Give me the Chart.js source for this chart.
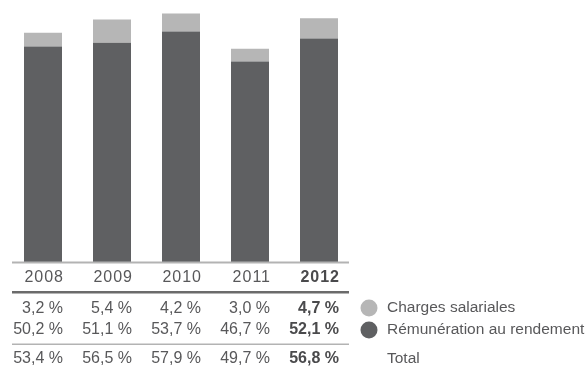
<!DOCTYPE html>
<html lang="fr">
<head>
<meta charset="UTF-8" />
<title>Rémunération au rendement</title>
<style>
  * {margin:0; padding:0; box-sizing:border-box;}
  body {background:#fff; width:587px; height:367px; overflow:hidden;}
  #chart {display:block;}
</style>
</head>
<body>
<canvas id="chart" width="587" height="367"></canvas>

<script src="https://cdn.jsdelivr.net/npm/chart.js"></script>
<script>
  // data
  const years = ['2008', '2009', '2010', '2011', '2012'];
  const charges = [3.2, 5.4, 4.2, 3.0, 4.7];
  const remuneration = [50.2, 51.1, 53.7, 46.7, 52.1];
  const totals = [53.4, 56.5, 57.9, 49.7, 56.8];

  const DARK = '#5f6062';
  const LIGHT = '#b6b6b6';
  const TEXT = '#58585a';
  const FONT = '"Liberation Sans", Arial, sans-serif';

  const pct = v => v.toFixed(1).replace('.', ',') + ' %';

  // table under the bars + legend at the right
  const tablePlugin = {
    id: 'tablePlugin',
    afterDraw(chart) {
      const ctx = chart.ctx;
      const meta = chart.getDatasetMeta(0);
      const lineL = 12, lineR = 349;
      ctx.save();

      // axis line, dark rule, light rule
      ctx.fillStyle = '#b3b3b3';
      ctx.fillRect(lineL, chart.chartArea.bottom - 0.5, lineR - lineL, 2);
      ctx.fillStyle = '#6b6b6b';
      ctx.fillRect(lineL, 291, lineR - lineL, 2.5);
      ctx.fillStyle = '#b3b3b3';
      ctx.fillRect(lineL, 343.5, lineR - lineL, 1.5);

      ctx.textAlign = 'right';
      ctx.textBaseline = 'middle';
      const last = years.length - 1;
      meta.data.forEach((bar, i) => {
        const right = bar.x + bar.width / 2 + 1;
        const bold = i === last;
        ctx.fillStyle = bold ? '#4a4a4c' : TEXT;
        ctx.font = (bold ? 'bold ' : '') + '16px ' + FONT;
        ctx.letterSpacing = '1px';
        ctx.fillText(years[i], right + 1, 278);
        ctx.letterSpacing = '0px';
        ctx.fillText(pct(charges[i]), right, 308.5);
        ctx.fillText(pct(remuneration[i]), right, 329.5);
        ctx.fillText(pct(totals[i]), right, 358.5);
      });

      // legend
      const items = [
        {label: chart.data.datasets[1].label, color: chart.data.datasets[1].backgroundColor, y: 308},
        {label: chart.data.datasets[0].label, color: chart.data.datasets[0].backgroundColor, y: 330},
        {label: 'Total', color: null, y: 358.5}
      ];
      ctx.textAlign = 'left';
      ctx.font = '15.5px ' + FONT;
      items.forEach(it => {
        if (it.color) {
          ctx.beginPath();
          ctx.arc(369, it.y, 8.5, 0, Math.PI * 2);
          ctx.fillStyle = it.color;
          ctx.fill();
        }
        ctx.fillStyle = TEXT;
        ctx.fillText(it.label, 387, it.y);
      });
      ctx.restore();
    }
  };

  new Chart(document.getElementById('chart'), {
    type: 'bar',
    data: {
      labels: years,
      datasets: [
        {label: 'Rémunération au rendement', data: remuneration, backgroundColor: DARK},
        {label: 'Charges salariales', data: charges, backgroundColor: LIGHT}
      ]
    },
    options: {
      responsive: false,
      animation: false,
      layout: {padding: {left: 8.5, right: 233.5, top: 4.5, bottom: 105}},
      datasets: {bar: {barPercentage: 1, categoryPercentage: 38 / 69}},
      plugins: {legend: {display: false}, tooltip: {enabled: false}},
      scales: {
        x: {stacked: true, display: false},
        y: {stacked: true, display: false, min: 0, max: 60}
      }
    },
    plugins: [tablePlugin]
  });
</script>
</body>
</html>
